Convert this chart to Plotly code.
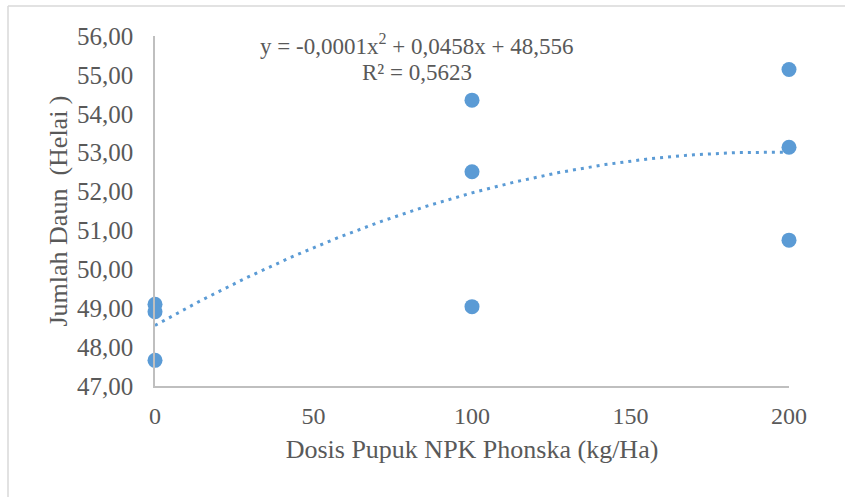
import numpy as np
import plotly.graph_objects as go

# Data
dosis = [0, 0, 0, 100, 100, 100, 200, 200, 200]
jumlah_daun = [49.10, 48.91, 47.66, 54.35, 52.51, 49.04, 55.14, 53.14, 50.75]
x_ticks = [0, 50, 100, 150, 200]
y_ticks = [47, 48, 49, 50, 51, 52, 53, 54, 55, 56]
equation_text = "y = -0,0001x<sup>2</sup> + 0,0458x + 48,556"
r2_text = "R² = 0,5623"
x_title = "Dosis Pupuk NPK Phonska (kg/Ha)"
y_title = "Jumlah Daun \u00a0(Helai )"

BLUE = "#5B9BD5"
TXT = "#595959"
FONT = "Liberation Serif"

coef = np.polyfit(dosis, jumlah_daun, 2)
xs = np.linspace(0, 200, 201)
ys = np.polyval(coef, xs)

fig = go.Figure()
fig.add_trace(go.Scatter(x=xs, y=ys, mode="lines",
                         line=dict(color=BLUE, width=3, dash="3px,5px"),
                         hoverinfo="skip", showlegend=False, cliponaxis=False))
fig.add_trace(go.Scatter(x=dosis, y=jumlah_daun, mode="markers",
                         marker=dict(color=BLUE, size=15),
                         showlegend=False, cliponaxis=False))

L, R, T, B = 155, 56, 36, 111
W, H = 845, 497
pw, ph = W - L - R, H - T - B

fig.update_layout(
    width=W, height=H,
    margin=dict(l=L, r=R, t=T, b=B),
    paper_bgcolor="white", plot_bgcolor="white",
    separators=",.",
    font=dict(family=FONT, color=TXT, size=24),
    xaxis=dict(range=[0, 200], tickvals=x_ticks, showgrid=False, zeroline=False,
               showline=True, linecolor="#BFBFBF", linewidth=1.5,
               ticks="outside", ticklen=7, tickcolor="rgba(0,0,0,0)",
               tickfont=dict(family=FONT, color=TXT, size=24),
               title=dict(text=x_title, standoff=12,
                          font=dict(family=FONT, color=TXT, size=26))),
    yaxis=dict(range=[47, 56], tickvals=y_ticks, tickformat=".2f", showgrid=False,
               zeroline=False, showline=True, linecolor="#BFBFBF", linewidth=1.5,
               ticks="outside", ticklen=15, tickcolor="rgba(0,0,0,0)",
               tickfont=dict(family=FONT, color=TXT, size=25),
               title=dict(text=y_title, standoff=2,
                          font=dict(family=FONT, color=TXT, size=26))),
    annotations=[
        dict(text=equation_text, x=(416 - L) / pw, y=(ph + T - 45) / ph,
             xref="paper", yref="paper", showarrow=False,
             font=dict(family=FONT, color=TXT, size=23), xanchor="center", yanchor="middle"),
        dict(text=r2_text, x=(417 - L) / pw, y=(ph + T - 72) / ph,
             xref="paper", yref="paper", showarrow=False,
             font=dict(family=FONT, color=TXT, size=23), xanchor="center", yanchor="middle"),
    ],
    shapes=[
        dict(type="line", xref="paper", yref="paper",
             x0=(8 - L) / pw, x1=(W - L) / pw, y0=(H - B - 6) / ph, y1=(H - B - 6) / ph,
             line=dict(color="#D9D9D9", width=1.5)),
        dict(type="line", xref="paper", yref="paper",
             x0=(8 - L) / pw, x1=(8 - L) / pw, y0=(H - B - 6) / ph, y1=-B / ph,
             line=dict(color="#D9D9D9", width=1.5)),
    ],
)

fig.write_html("out.html")
